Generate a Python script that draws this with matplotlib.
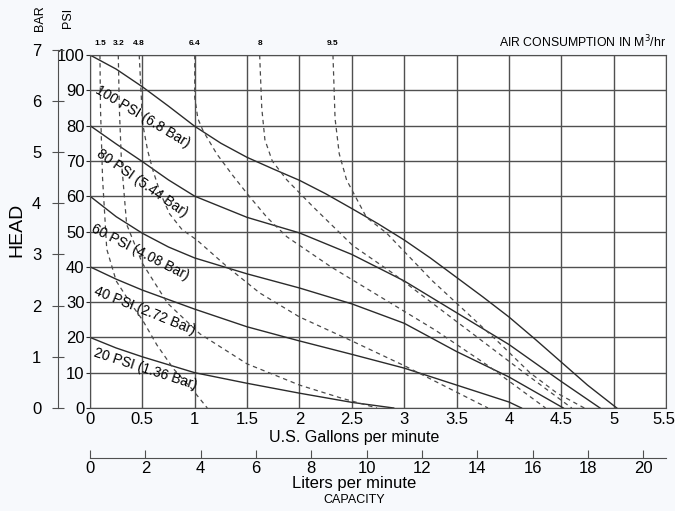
import numpy as np
import matplotlib.pyplot as plt
from matplotlib.transforms import ScaledTranslation

# pump performance curves (US GPM, PSI)
p100_x = [0, 0.25, 0.5, 0.75, 1.0, 1.25, 1.5, 1.75, 2.0, 2.25, 2.5, 2.75, 3.0,
          3.25, 3.5, 3.75, 4.0, 4.25, 4.5, 4.75, 5.03]
p100_y = [100, 96, 91, 85.5, 79.8, 75, 71, 67.7, 64.5, 60.7, 56.5, 52.2, 47.6,
          42.5, 37, 31.5, 25.8, 19.5, 13, 6.5, 0]
p80_x = [0, 0.25, 0.5, 0.75, 1.0, 1.5, 2.0, 2.5, 3.0, 3.5, 4.0, 4.5, 4.87]
p80_y = [80, 74.8, 69.8, 64.6, 60, 54, 49.6, 43.5, 36, 27, 18, 7.5, 0]
p60_x = [0, 0.25, 0.5, 0.75, 1.0, 1.5, 2.0, 2.5, 3.0, 3.5, 4.0, 4.52]
p60_y = [60, 54.2, 49.5, 45.6, 42.5, 38, 34, 29.5, 24, 16, 8.8, 0]
p40_x = [0, 0.25, 0.5, 1.0, 1.5, 2.0, 2.5, 3.0, 3.5, 4.0, 4.12]
p40_y = [40, 36.5, 33.4, 28, 23, 19, 15.2, 11.3, 6.5, 1.7, 0]
p20_x = [0, 0.25, 0.5, 1.0, 1.5, 2.0, 2.5, 2.9]
p20_y = [20, 17, 14.5, 10, 7, 4.2, 1.6, 0]

pump_labels = ['100 PSI (6.8 Bar)', '80 PSI (5.44 Bar)', '60 PSI (4.08 Bar)',
               '40 PSI (2.72 Bar)', '20 PSI (1.36 Bar)']

# air consumption curves (dashed)
air_labels = ['1.5', '3.2', '4.8', '6.4', '8', '9.5']
a1_x = [0.095, 0.1, 0.12, 0.16, 0.25, 0.38, 0.5, 0.64, 0.8, 0.97, 1.12]
a1_y = [100, 85, 65, 45, 36, 30, 25, 17.8, 11, 5.5, 0]
a2_x = [0.27, 0.28, 0.3, 0.35, 0.5, 0.74, 1.05, 1.5, 2.0, 2.4, 2.74]
a2_y = [100, 85, 70, 52, 41, 29.7, 21, 12.5, 6.5, 2.8, 0]
a3_x = [0.47, 0.49, 0.5, 0.55, 0.6, 0.67, 0.76, 0.88, 1.02, 1.31, 1.62, 2.0, 2.5, 3.0, 3.4, 3.8]
a3_y = [100, 88, 81, 73, 67.4, 61, 55, 50.5, 47.6, 40, 32.6, 25.8, 19, 12, 6, 0]
a4_x = [1.0, 1.0, 1.03, 1.08, 1.21, 1.36, 1.52, 1.69, 1.88, 2.3, 2.8, 3.3, 3.8, 4.35]
a4_y = [100, 88, 82, 78.5, 72, 66, 60, 54, 48.5, 40, 31, 22, 12, 0]
a5_x = [1.62, 1.64, 1.67, 1.74, 1.88, 2.13, 2.51, 2.9, 3.3, 3.7, 4.1, 4.6]
a5_y = [100, 85, 76, 70, 64.6, 57, 46, 38, 29, 20, 11, 0]
a6_x = [2.32, 2.34, 2.38, 2.45, 2.64, 2.83, 3.05, 3.27, 3.5, 3.91, 4.2, 4.46, 4.72]
a6_y = [100, 82, 72, 64.6, 54, 49.6, 42.8, 36, 29.7, 18.4, 10, 4.2, 0]

gpm_ticks = [0, 0.5, 1, 1.5, 2, 2.5, 3, 3.5, 4, 4.5, 5, 5.5]
gpm_ticklabels = ['0', '0.5', '1', '1.5', '2', '2.5', '3', '3.5', '4', '4.5', '5', '5.5']
lpm_ticks = [0, 2, 4, 6, 8, 10, 12, 14, 16, 18, 20]
psi_ticks = [0, 10, 20, 30, 40, 50, 60, 70, 80, 90, 100]
bar_ticks = [0, 1, 2, 3, 4, 5, 6, 7]

ink = '#2b2b2b'
gridc = '#505050'
plt.rcParams['font.family'] = ['Liberation Sans', 'DejaVu Sans']

fig = plt.figure(figsize=(6.75, 5.11), dpi=100)
fig.patch.set_facecolor('#f7f9fc')

W, H = 675, 511
x0, x1, y0, y1 = 90, 666, 408, 55
ax = fig.add_axes([x0 / W, 1 - y0 / H, (x1 - x0) / W, (y0 - y1) / H])
ax.set_facecolor('white')
ax.set_xlim(0, 5.5)
ax.set_ylim(0, 100)
ax.set_xticks(gpm_ticks)
ax.set_xticklabels(gpm_ticklabels)
ax.set_yticks(psi_ticks)
ax.grid(True, color=gridc, linewidth=1.0)
for s in ax.spines.values():
    s.set_color(gridc)
ax.tick_params(axis='x', length=0, labelsize=12, pad=3)
ax.tick_params(axis='y', length=3, labelsize=12, pad=1, color=ink)
last = ax.get_xticklabels()[-1]
last.set_horizontalalignment('right')
last.set_transform(last.get_transform() + ScaledTranslation(9 / 100, 0, fig.dpi_scale_trans))

pumps = [(p100_x, p100_y), (p80_x, p80_y), (p60_x, p60_y), (p40_x, p40_y), (p20_x, p20_y)]
for px, py in pumps:
    ax.plot(px, py, color=ink, linewidth=1.0)

airs = [(a1_x, a1_y), (a2_x, a2_y), (a3_x, a3_y), (a4_x, a4_y), (a5_x, a5_y), (a6_x, a6_y)]
for (axx, ayy), lab in zip(airs, air_labels):
    ax.plot(axx, ayy, color='#4a4a4a', linewidth=0.9, linestyle=(0, (3.5, 3)))
    ax.text(axx[0], 102.2, lab, fontsize=6, fontweight='bold', ha='center', va='bottom')

ax.text(1.0, 101.2, 'AIR CONSUMPTION IN M$^3$/hr', transform=ax.get_yaxis_transform(),
        fontsize=8.8, ha='right', va='bottom')

# curve labels (gpm, psi, angle)
label_pos = [(0.5, 82.6, -31), (0.5, 63.6, -35), (0.48, 44.0, -27), (0.52, 27.6, -22), (0.53, 11.0, -18)]
for (lx, ly, rot), txt in zip(label_pos, pump_labels):
    ax.text(lx, ly, txt, fontsize=10, rotation=rot, ha='center', va='center',
            rotation_mode='anchor')

# liters per minute scale
sec = ax.secondary_xaxis(-0.142, functions=(lambda g: g * 3.785, lambda l: l / 3.785))
sec.set_xticks(lpm_ticks)
sec.spines['bottom'].set_color(gridc)
sec.tick_params(direction='in', length=6, labelsize=12, color=gridc, pad=2)

cx = 354 / W
fig.text(cx, 1 - 437 / H, 'U.S. Gallons per minute', fontsize=11.5, ha='center', va='center')
fig.text(cx, 1 - 483 / H, 'Liters per minute', fontsize=12, ha='center', va='center')
fig.text(cx, 1 - 500 / H, 'CAPACITY', fontsize=9, ha='center', va='center')

# bar scale
bar_top = 7 * 14.5
bx = 58
axb = fig.add_axes([bx / W, 1 - y0 / H, 0.0001, (y0 - y1) / H * bar_top / 100])
axb.set_ylim(0, 7)
axb.set_xticks([])
axb.set_yticks(bar_ticks)
for k in ['top', 'right', 'bottom']:
    axb.spines[k].set_visible(False)
axb.spines['left'].set_color(gridc)
axb.patch.set_alpha(0)
axb.tick_params(axis='y', direction='inout', length=8, labelsize=12, pad=8, color=gridc)

fig.text(40 / W, 1 - 18 / H, 'BAR', rotation=90, fontsize=9, ha='center', va='center')
fig.text(68 / W, 1 - 18 / H, 'PSI', rotation=90, fontsize=9, ha='center', va='center')
fig.text(17 / W, 1 - 230 / H, 'HEAD', rotation=90, fontsize=14, ha='center', va='center')

fig.savefig('out.png', dpi=100, facecolor=fig.get_facecolor())
